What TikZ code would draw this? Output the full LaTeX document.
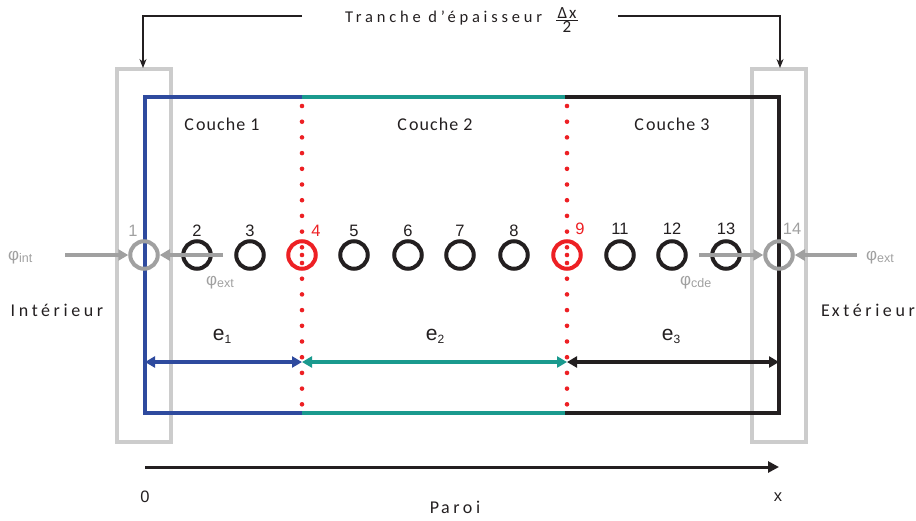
\documentclass[tikz,border=0pt]{standalone}
\usepackage{fontspec}
\setmainfont{Liberation Sans}
\newfontfamily\spacedA[LetterSpace=6]{Carlito}
\newfontfamily\spacedB[LetterSpace=20]{Carlito}
\newfontfamily\spacedC[LetterSpace=23]{Carlito}
\newfontfamily\plainfr{Carlito}
\usetikzlibrary{arrows.meta}
\definecolor{cblue}{HTML}{2E4A9E}
\definecolor{cteal}{HTML}{1A9A8E}
\definecolor{cblack}{HTML}{231F20}
\definecolor{cred}{HTML}{ED2024}
\definecolor{cgrey}{HTML}{A0A0A0}
\definecolor{clight}{HTML}{CCCCCC}
\begin{document}
\begin{tikzpicture}[x=1pt,y=-1pt,
  circ/.style={circle,draw=cblack,line width=4pt,minimum size=27.5pt,inner sep=0pt},
  redcirc/.style={circ,draw=cred},
  greycirc/.style={circ,draw=cgrey},
  num/.style={font=\fontsize{16.5}{16.5}\selectfont,text=cblack,inner sep=0pt},
  rednum/.style={num,text=cred},
  greynum/.style={num,text=cgrey},
  elabel/.style={font=\fontsize{21}{21}\selectfont,text=cblack,inner sep=0pt},
  couche/.style={font=\spacedA\fontsize{18}{18}\selectfont,text=cblack,inner sep=0pt},
  word/.style={font=\spacedB\fontsize{18}{18}\selectfont,text=cblack,inner sep=0pt},
  title/.style={font=\spacedC\fontsize{16.5}{16.5}\selectfont,text=cblack,inner sep=0pt},
  frac/.style={font=\plainfr\fontsize{17}{14}\selectfont,text=cblack,inner sep=0pt,align=center},
  flux/.style={font=\fontsize{17}{17}\selectfont,text=cgrey,inner sep=0pt},
  fluxarrow/.style={draw=cgrey,line width=3.2pt,-{Triangle[length=10pt,width=11pt]}},
  wall/.style={line width=4.2pt},
  slice/.style={draw=clight,line width=4pt},
  dots/.style={draw=cred,line width=4.6pt,line cap=round,dash pattern=on 0pt off 15.7pt},
  dim/.style={line width=3.3pt,{Triangle[length=10pt,width=11pt]}-{Triangle[length=10pt,width=11pt]}},
  thin/.style={draw=cblack,line width=1.1pt,-{Stealth[length=9pt,width=7pt]}}
]
\useasboundingbox (0,0) rectangle (916,520);
% slice rectangles
\draw[slice] (117,69) rectangle (171,442);
\draw[slice] (752,69) rectangle (806,442);
% coordinates of wall
\coordinate (tl) at (145,97); \coordinate (t1) at (302,97); \coordinate (t2) at (567,97); \coordinate (tr) at (779,97);
\coordinate (bl) at (145,413); \coordinate (b1) at (302,413); \coordinate (b2) at (567,413); \coordinate (br) at (779,413);
\draw[wall,cblue,line cap=rect] (t1) -- (tl) -- (bl) -- (b1);
\draw[wall,cteal] (t1) -- (t2);
\draw[wall,cteal] (b1) -- (b2);
\draw[wall,cblack,line cap=rect] (t2) -- (tr) -- (br) -- (b2);
% red dotted interfaces
\coordinate (d1t) at (302,106); \coordinate (d2t) at (567,106);
\draw[dots] (d1t) -- (b1);
\draw[dots] (d2t) -- (b2);
% layer names
\node[couche] (n1) at (222,124) {C\kern2pt ouche 1};
\node[couche] (n2) at (435,124) {C\kern2pt ouche 2};
\node[couche] (n3) at (672,124) {C\kern2pt ouche 3};
% nodes
\node[greycirc] (c1) at (144,255) {};
\node[circ] (c2) at (197,255) {};
\node[circ] (c3) at (250,255) {};
\node[redcirc] (c4) at (302,255) {};
\node[circ] (c5) at (354,255) {};
\node[circ] (c6) at (408,255) {};
\node[circ] (c7) at (460,255) {};
\node[circ] (c8) at (514,255) {};
\node[redcirc] (c9) at (567,255) {};
\node[circ] (c11) at (620,255) {};
\node[circ] (c12) at (672,255) {};
\node[circ] (c13) at (726,255) {};
\node[greycirc] (c14) at (779,255) {};
\fill[cred] (c4.center) circle (2.3pt);
\fill[cred] (c9.center) circle (2.3pt);
% numbers
\node[greynum] (l1) at (133,231) {1};
\node[num] (l2) at (197,231) {2};
\node[num] (l3) at (250,231) {3};
\node[rednum] (l4) at (316,231) {4};
\node[num] (l5) at (354,231) {5};
\node[num] (l6) at (408,231) {6};
\node[num] (l7) at (460,231) {7};
\node[num] (l8) at (514,231) {8};
\node[rednum] (l9) at (580,229) {9};
\node[num] (l11) at (620,229) {11};
\node[num] (l12) at (672,229) {12};
\node[num] (l13) at (726,229) {13};
\node[greynum] (l14) at (792,229) {14};
% flux arrows
\coordinate (fa) at (65,255); \coordinate (fb) at (223,255);
\coordinate (fc) at (699,255); \coordinate (fd) at (857,255);
\draw[fluxarrow] (fa) -- (c1.west);
\draw[fluxarrow] (fb) -- (c1.east);
\draw[fluxarrow] (fc) -- (c14.west);
\draw[fluxarrow] (fd) -- (c14.east);
\node[flux,anchor=west] (p1) at (8,258) {φ\raisebox{-2pt}{\fontsize{12.5}{12.5}\selectfont int}};
\node[flux,anchor=west] (p2) at (206,283) {φ\raisebox{-2pt}{\fontsize{12.5}{12.5}\selectfont ext}};
\node[flux,anchor=west] (p3) at (680,283) {φ\raisebox{-2pt}{\fontsize{12.5}{12.5}\selectfont cde}};
\node[flux,anchor=west] (p4) at (866,258) {φ\raisebox{-2pt}{\fontsize{12.5}{12.5}\selectfont ext}};
% sides
\node[word] (in) at (57,310) {Intérieur};
\node[word] (ex) at (868,310) {E\kern2pt xtérieur};
% thicknesses
\node[elabel] (e1) at (222,336) {e\raisebox{-3pt}{\fontsize{12}{12}\selectfont 1}};
\node[elabel] (e2) at (435,336) {e\raisebox{-3pt}{\fontsize{12}{12}\selectfont 2}};
\node[elabel] (e3) at (671,336) {e\raisebox{-3pt}{\fontsize{12}{12}\selectfont 3}};
\coordinate (m0) at (145,362); \coordinate (m1) at (302,362);
\coordinate (m2) at (567,362); \coordinate (m3) at (779,362);
\draw[dim,cblue] (m0) -- (m1);
\draw[dim,cteal] (m1) -- (m2);
\draw[dim,cblack] (m2) -- (m3);
% axis
\coordinate (a0) at (145,467); \coordinate (a1) at (779,467);
\draw[line width=3pt,cblack,-{Triangle[length=11pt,width=11pt]}] (a0) -- (a1);
\node[num] (z0) at (145,497) {0};
\node[num] (zx) at (778,497) {x};
\node[word] (par) at (455,507) {P\kern2pt aroi};
% top label
\node[title,anchor=base west] (tr) at (345,22) {Tranche d’épaisseur};
\node[frac] (fr) at (567,20) {Δ\kern2pt x\\2};
\coordinate (fb1) at (556,20.5); \coordinate (fb2) at (578,20.5);
\draw[cblack,line width=0.9pt] (fb1) -- (fb2);
\coordinate (hl) at (302,16); \coordinate (hlc) at (143,16); \coordinate (hld) at (143,68);
\coordinate (hr) at (618,16); \coordinate (hrc) at (780,16); \coordinate (hrd) at (780,68);
\draw[thin] (hl) -- (hlc) -- (hld);
\draw[thin] (hr) -- (hrc) -- (hrd);
\end{tikzpicture}
\end{document}
